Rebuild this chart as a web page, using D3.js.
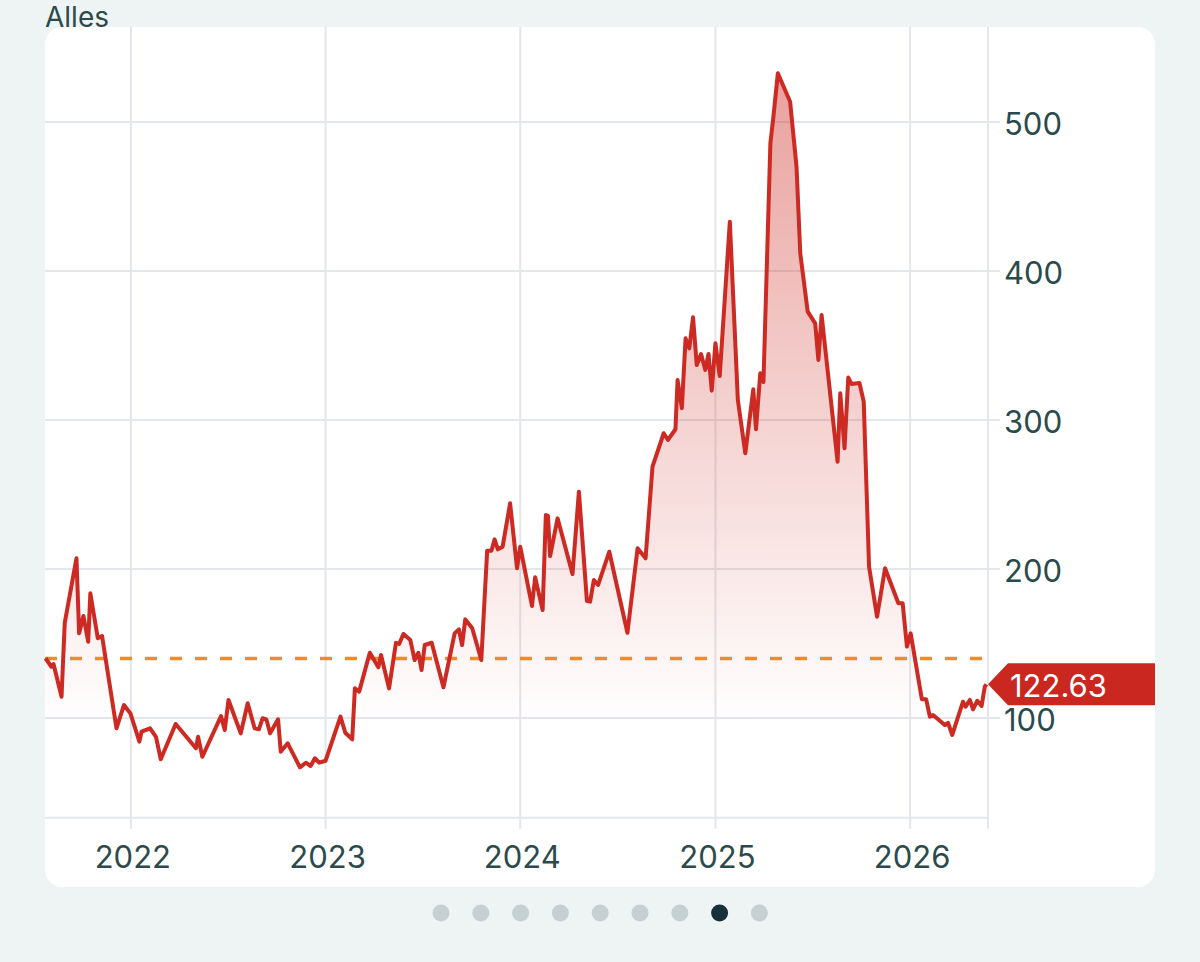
<!DOCTYPE html>
<html>
<head>
<meta charset="utf-8">
<script src="https://cdn.jsdelivr.net/npm/d3@7"></script>
<style>
	body { margin: 0; background: #eef3f4; }
	svg { display: block; font-family: Inter, "Helvetica Neue", Arial, sans-serif; }
</style>
</head>
<body>
<svg id="chart" width="1200" height="962"></svg>
<script>

var dates = [
	"2021-07-25","2021-08-05","2021-08-09","2021-08-24","2021-08-30","2021-09-21","2021-09-26","2021-10-04","2021-10-13","2021-10-17","2021-10-31","2021-11-08","2021-12-05","2021-12-19","2021-12-31",
	"2022-01-17","2022-01-21","2022-02-06","2022-02-17","2022-02-26","2022-03-26","2022-05-03","2022-05-07","2022-05-15","2022-06-19","2022-06-26","2022-07-03","2022-07-26","2022-08-08","2022-08-21","2022-08-29","2022-09-05","2022-09-12","2022-09-19","2022-10-04","2022-10-09","2022-10-22","2022-11-14","2022-11-25","2022-12-04","2022-12-12","2022-12-20",
	"2023-01-01","2023-01-29","2023-02-07","2023-02-20","2023-02-25","2023-03-05","2023-03-25","2023-04-10","2023-04-15","2023-04-30","2023-05-13","2023-05-19","2023-05-27","2023-06-09","2023-06-17","2023-06-24","2023-06-30","2023-07-06","2023-07-19","2023-08-10","2023-08-31","2023-09-08","2023-09-14","2023-09-20","2023-10-03","2023-10-20","2023-10-31","2023-11-08","2023-11-14","2023-11-20","2023-11-29","2023-12-13","2023-12-26",
	"2024-01-01","2024-01-23","2024-01-29","2024-02-12","2024-02-18","2024-02-22","2024-02-26","2024-03-11","2024-04-08","2024-04-20","2024-05-05","2024-05-11","2024-05-18","2024-05-26","2024-06-16","2024-07-20","2024-08-08","2024-08-23","2024-09-05","2024-09-26","2024-10-04","2024-10-18","2024-10-22","2024-10-30","2024-11-06","2024-11-13","2024-11-20","2024-11-27","2024-12-05","2024-12-13","2024-12-19","2024-12-25",
	"2025-01-01","2025-01-09","2025-01-28","2025-02-12","2025-02-26","2025-03-13","2025-03-18","2025-03-26","2025-04-01","2025-04-14","2025-04-20","2025-04-28","2025-05-21","2025-06-02","2025-06-09","2025-06-23","2025-07-07","2025-07-13","2025-07-19","2025-08-18","2025-08-23","2025-08-31","2025-09-07","2025-09-13","2025-09-28","2025-10-06","2025-10-16","2025-10-31","2025-11-15","2025-12-10","2025-12-18","2025-12-26",
	"2026-01-02","2026-01-23","2026-01-31","2026-02-07","2026-02-13","2026-03-07","2026-03-13","2026-03-21","2026-04-10","2026-04-15","2026-04-23","2026-04-29","2026-05-07","2026-05-15","2026-05-21","2026-05-24"
];

var values = [
	140.1, 134.4, 136.2, 114.3, 163.8, 207.2, 156.8, 168.5, 151.2, 183.7, 153.5, 155.0, 93.1, 108.7, 103.2,
	84.1, 90.8, 93.1, 87.4, 72.3, 96.0, 79.7, 87.4, 74.0, 101.3, 91.9, 112.1, 89.7, 109.9, 93.1, 92.4, 99.8, 99.1, 89.7, 99.1, 77.4, 83.0, 66.9, 70.0, 67.8, 73.0, 70.0,
	71.3, 100.9, 90.1, 85.7, 119.9, 117.7, 143.8, 134.0, 142.3, 119.9, 150.5, 149.7, 156.4, 152.3, 138.9, 143.8, 132.2, 149.0, 150.5, 120.6, 156.8, 159.5, 149.0, 166.2, 160.2, 138.9, 212.3, 212.3, 219.9, 213.2, 215.0, 244.1, 200.5,
	215.0, 175.2, 194.4, 172.5, 236.2, 235.6, 208.7, 234.0, 196.6, 251.9, 178.7, 178.1, 192.6, 189.3, 211.6, 157.2, 213.9, 207.2, 268.7, 291.1, 286.6, 293.8, 326.8, 307.9, 354.8, 348.1, 368.9, 336.9, 344.3, 333.6, 344.3, 319.7,
	351.5, 329.5, 433.1, 313.4, 277.7, 320.6, 293.8, 331.3, 325.5, 485.7, 504.7, 532.7, 513.6, 470.0, 411.9, 372.7, 364.9, 340.3, 370.5, 272.0, 317.9, 281.0, 328.5, 324.2, 324.8, 312.3, 201.5, 168.0, 200.5, 177.0, 177.0, 147.9,
	156.8, 112.6, 112.6, 100.9, 102.0, 95.3, 96.8, 88.6, 110.9, 107.6, 112.1, 105.8, 111.6, 108.1, 121.0, 122.63
];

var yearTicks = ["2022", "2023", "2024", "2025", "2026"];
var valueTicks = [100, 200, 300, 400, 500];
var refValue = 140;       // dashed line
var lastLabel = "122.63";
var title = "Alles";
var pageCount = 9, pageActive = 7;

var parse = d3.timeParse("%Y-%m-%d");
var series = dates.map(function (d, i) { return { date: parse(d), value: values[i] }; });
var last = series[series.length - 1];

var svg = d3.select("#chart");
var textColor = "#2b4a4c";
var gridColor = "#e3e6ea";

// card
svg.append("rect")
	.attr("x", 45).attr("y", 27)
	.attr("width", 1110).attr("height", 860)
	.attr("rx", 17)
	.attr("fill", "#fff");

svg.append("text")
	.attr("x", 45).attr("y", 27)
	.attr("font-size", 28)
	.attr("fill", textColor)
	.text(title);

var x = d3.scaleTime()
	.domain([parse("2021-07-24"), parse("2026-05-27")])
	.range([45, 988]);

var y = d3.scaleLinear()
	.domain([100, 500])
	.range([718, 122]);

var yBottom = y(33);

// grid
svg.append("g").selectAll("line")
	.data(valueTicks)
	.enter()
	.append("line")
	.attr("x1", 45).attr("x2", 1000)
	.attr("y1", function (d) { return y(d); })
	.attr("y2", function (d) { return y(d); })
	.attr("stroke", gridColor)
	.attr("stroke-width", 2);

svg.append("line")
	.attr("x1", 45).attr("x2", 988)
	.attr("y1", yBottom).attr("y2", yBottom)
	.attr("stroke", gridColor)
	.attr("stroke-width", 2);

var vlines = yearTicks.map(function (d) { return x(parse(d + "-01-01")); }).concat([x.range()[1]]);
svg.append("g").selectAll("line")
	.data(vlines)
	.enter()
	.append("line")
	.attr("x1", function (d) { return d; })
	.attr("x2", function (d) { return d; })
	.attr("y1", 27).attr("y2", yBottom + 11)
	.attr("stroke", gridColor)
	.attr("stroke-width", 2);

// axes labels
svg.append("g").selectAll("text")
	.data(valueTicks)
	.enter()
	.append("text")
	.attr("x", 1004)
	.attr("y", function (d) { return y(d) + 1; })
	.attr("dominant-baseline", "central")
	.attr("font-size", 31)
	.attr("fill", textColor)
	.text(function (d) { return d; });

svg.append("g").selectAll("text")
	.data(yearTicks)
	.enter()
	.append("text")
	.attr("x", function (d) { return x(parse(d + "-01-01")) + 2; })
	.attr("y", 868)
	.attr("text-anchor", "middle")
	.attr("font-size", 31)
	.attr("fill", textColor)
	.text(function (d) { return d; });

// area gradient
var grad = svg.append("defs").append("linearGradient")
	.attr("id", "fade")
	.attr("gradientUnits", "userSpaceOnUse")
	.attr("x1", 0).attr("x2", 0)
	.attr("y1", y(530)).attr("y2", y(95));
grad.append("stop").attr("offset", 0).attr("stop-color", "#cc2a22").attr("stop-opacity", 0.44);
grad.append("stop").attr("offset", 1).attr("stop-color", "#cc2a22").attr("stop-opacity", 0);

var area = d3.area()
	.x(function (d) { return x(d.date); })
	.y0(yBottom)
	.y1(function (d) { return y(d.value); });

var line = d3.line()
	.x(function (d) { return x(d.date); })
	.y(function (d) { return y(d.value); });

svg.append("path")
	.datum(series)
	.attr("d", area)
	.attr("fill", "url(#fade)");

svg.append("line")
	.attr("x1", 45).attr("x2", 988)
	.attr("y1", y(refValue)).attr("y2", y(refValue))
	.attr("stroke", "#ef8a2e")
	.attr("stroke-width", 3.5)
	.attr("stroke-dasharray", "12,13");

svg.append("path")
	.datum(series)
	.attr("d", line)
	.attr("fill", "none")
	.attr("stroke", "#cc2a22")
	.attr("stroke-width", 4)
	.attr("stroke-linejoin", "round");

// last value tag
var ty = y(last.value), tx = x.range()[1];
svg.append("path")
	.attr("d", "M" + tx + "," + ty + "L" + (tx + 20) + "," + (ty - 21) + "H1155V" + (ty + 21) + "H" + (tx + 20) + "Z")
	.attr("fill", "#c9271f");
svg.append("text")
	.attr("x", tx + 22)
	.attr("y", ty + 1)
	.attr("dominant-baseline", "central")
	.attr("font-size", 31)
	.attr("fill", "#fff")
	.text(lastLabel);

// page dots
svg.append("g").selectAll("circle")
	.data(d3.range(pageCount))
	.enter()
	.append("circle")
	.attr("cx", function (d) { return 441 + d * 39.8; })
	.attr("cy", 913)
	.attr("r", 8.5)
	.attr("fill", function (d) { return d === pageActive ? "#17303a" : "#c5d0d3"; });

</script>
</body>
</html>
